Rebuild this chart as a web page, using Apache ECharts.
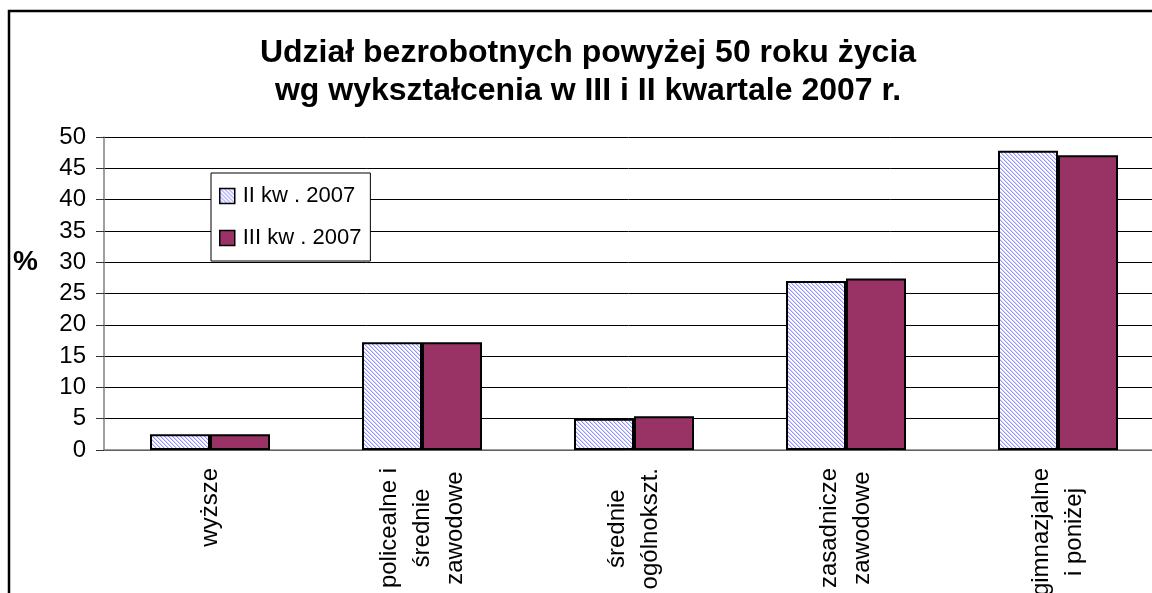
<!DOCTYPE html>
<html>
<head>
<meta charset="utf-8">
<script src="https://cdn.jsdelivr.net/npm/echarts@6/dist/echarts.min.js"></script>
<style>
html, body { margin: 0; padding: 0; background: #fff; }
#chart { width: 1152px; height: 593px; }
</style>
</head>
<body>
<div id="chart"></div>
<script>
// dane z wykresu
const categories = ['wyższe', 'policealne i\nśrednie\nzawodowe', 'średnie\nogólnokszt.', 'zasadnicze\nzawodowe', 'gimnazjalne\ni poniżej']
const seriesNames = ['II kw . 2007', 'III kw . 2007']
const q2Values = [2.5, 17.2, 5.0, 27.0, 47.8]
const q3Values = [2.5, 17.2, 5.4, 27.4, 47.1]
const yMin = 0
const yMax = 50
const yStep = 5

const font = 'Liberation Sans, Arial, sans-serif'

// kreskowanie jak w Excelu
const hatch = document.createElement('canvas')
hatch.width = 4
hatch.height = 4
const ctx = hatch.getContext('2d')
ctx.fillStyle = '#fff'
ctx.fillRect(0, 0, 4, 4)
for (let i = 0; i < 4; i++) {
	ctx.fillStyle = '#9494ff'
	ctx.fillRect(i, i, 1, 1)
	ctx.fillStyle = '#d4d4ff'
	ctx.fillRect((i + 1) % 4, i, 1, 1)
}

const chart = echarts.init(document.getElementById('chart'), null, { renderer: 'canvas' })

const option = {
	animation: false,
	backgroundColor: '#fff',
	title: {
		text: 'Udział bezrobotnych powyżej 50 roku życia\nwg wykształcenia w III i II kwartale 2007 r.',
		left: 588,
		top: 34,
		padding: 0,
		textAlign: 'center',
		textStyle: { fontFamily: font, fontSize: 32, fontWeight: 'bold', color: '#000', lineHeight: 38 }
	},
	legend: {
		orient: 'vertical',
		left: 211,
		top: 173,
		padding: [12, 9, 12, 8],
		itemGap: 20,
		itemWidth: 15,
		itemHeight: 15,
		icon: 'rect',
		backgroundColor: '#fff',
		borderColor: '#000',
		borderWidth: 1,
		borderRadius: 0,
		itemStyle: { borderColor: '#000', borderWidth: 1.5 },
		textStyle: { fontFamily: font, fontSize: 22, color: '#000', lineHeight: 22, padding: [0, 0, 0, 3] },
		data: seriesNames
	},
	grid: { left: 104, right: -12, top: 137, bottom: 143, containLabel: false, outerBoundsMode: 'none' },
	xAxis: {
		type: 'category',
		data: categories,
		axisLine: { lineStyle: { color: '#808080', width: 1.5 } },
		axisTick: { length: 7, lineStyle: { color: '#333' } },
		axisLabel: {
			rotate: 90,
			margin: 18,
			interval: 0,
			color: '#000',
			formatter: (v) => v.split('\n').map(s => '{c|' + s + '}').join('\n'),
			rich: {
				c: { fontFamily: font, fontSize: 24, lineHeight: 33, align: 'center', color: '#000' }
			}
		}
	},
	yAxis: {
		type: 'value',
		min: yMin,
		max: yMax,
		interval: yStep,
		axisLine: { show: true, lineStyle: { color: '#808080', width: 1.5 } },
		axisTick: { show: true, length: 8, lineStyle: { color: '#333' } },
		axisLabel: { margin: 18, fontFamily: font, fontSize: 24, color: '#000' },
		splitLine: { lineStyle: { color: '#000', width: 1 } }
	},
	graphic: [
		{
			type: 'rect',
			silent: true,
			shape: { x: 9, y: 11, width: 1400, height: 900 },
			style: { fill: 'none', stroke: '#000', lineWidth: 2.5 }
		},
		{
			type: 'text',
			left: 13,
			top: 248,
			style: { text: '%', font: 'bold 28px ' + font, fill: '#000' }
		}
	],
	series: [
		{
			name: seriesNames[0],
			type: 'bar',
			data: q2Values,
			barWidth: 60,
			barGap: '0%',
			itemStyle: { color: { image: hatch, repeat: 'repeat' }, borderColor: '#000', borderWidth: 2 }
		},
		{
			name: seriesNames[1],
			type: 'bar',
			data: q3Values,
			barWidth: 60,
			barGap: '0%',
			itemStyle: { color: '#993366', borderColor: '#000', borderWidth: 2 }
		}
	]
}

chart.setOption(option)
</script>
</body>
</html>
